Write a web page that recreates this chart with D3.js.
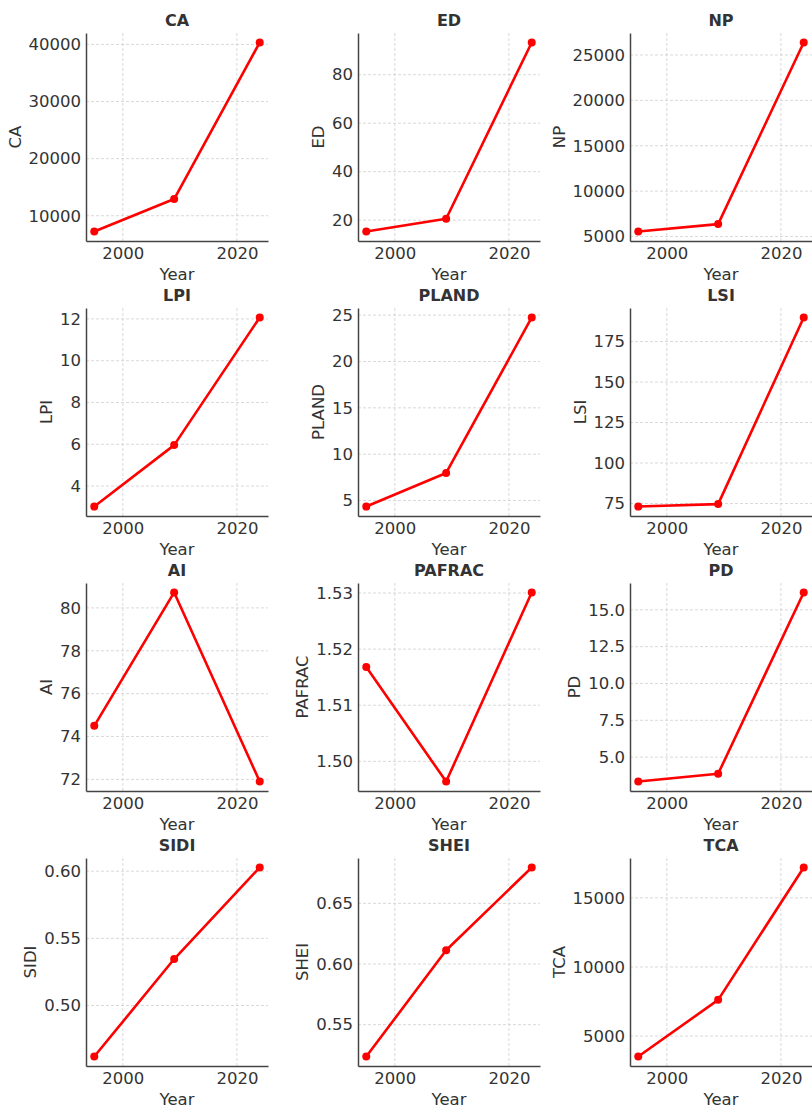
<!DOCTYPE html>
<html>
<head>
<meta charset="utf-8">
<script src="https://cdn.jsdelivr.net/npm/d3@7"></script>
<style>
  html, body { margin: 0; padding: 0; background: #fff; }
  svg { display: block; font-family: "DejaVu Sans", sans-serif; }
</style>
</head>
<body>
<svg id="chart" width="812" height="1106"></svg>
<script>
// ---- data ----
const years = [1995, 2009, 2024];
const xTicks = [2000, 2020];
const metrics = ["CA", "ED", "NP", "LPI", "PLAND", "LSI", "AI", "PAFRAC", "PD", "SIDI", "SHEI", "TCA"];

const CA = [7230, 12930, 40350];
const ED = [15.3, 20.6, 93.3];
const NP = [5550, 6370, 26380];
const LPI = [3.02, 5.96, 12.07];
const PLAND = [4.35, 7.97, 24.75];
const LSI = [73.1, 74.6, 189.9];
const AI = [74.5, 80.72, 71.9];
const PAFRAC = [1.5168, 1.4964, 1.5301];
const PD = [3.34, 3.87, 16.18];
const SIDI = [0.462, 0.5346, 0.6028];
const SHEI = [0.5237, 0.6113, 0.6796];
const TCA = [3520, 7620, 17200];

const ticksCA = [10000, 20000, 30000, 40000];
const ticksED = [20, 40, 60, 80];
const ticksNP = [5000, 10000, 15000, 20000, 25000];
const ticksLPI = [4, 6, 8, 10, 12];
const ticksPLAND = [5, 10, 15, 20, 25];
const ticksLSI = [75, 100, 125, 150, 175];
const ticksAI = [72, 74, 76, 78, 80];
const ticksPAFRAC = ["1.50", "1.51", "1.52", "1.53"];
const ticksPD = ["5.0", "7.5", "10.0", "12.5", "15.0"];
const ticksSIDI = ["0.50", "0.55", "0.60"];
const ticksSHEI = ["0.55", "0.60", "0.65"];
const ticksTCA = [5000, 10000, 15000];

const values = { CA, ED, NP, LPI, PLAND, LSI, AI, PAFRAC, PD, SIDI, SHEI, TCA };
const ticks = {
  CA: ticksCA, ED: ticksED, NP: ticksNP, LPI: ticksLPI, PLAND: ticksPLAND, LSI: ticksLSI,
  AI: ticksAI, PAFRAC: ticksPAFRAC, PD: ticksPD, SIDI: ticksSIDI, SHEI: ticksSHEI, TCA: ticksTCA
};

// ---- layout ----
const svg = d3.select("#chart");
const colX = [86, 358, 630];
const rowY = [33, 308, 583, 858];
const W = 182, H = 208;
const FS = 16.5;
const textColor = "#333";
const spineColor = "#444";

function pad(ext) { const r = ext[1] - ext[0]; return [ext[0] - 0.05 * r, ext[1] + 0.05 * r]; }

metrics.forEach((m, i) => {
  const col = i % 3, row = Math.floor(i / 3);
  const g = svg.append("g").attr("transform", `translate(${colX[col]},${rowY[row]})`);
  const x = d3.scaleLinear().domain(pad(d3.extent(years))).range([0, W]);
  const y = d3.scaleLinear().domain(pad(d3.extent(values[m]))).range([H, 0]);
  const tks = ticks[m];
  const tickVals = tks.map(t => +t);
  const tickLab = tks.map(t => typeof t === "string" ? t : String(t));

  // grid
  g.append("g").selectAll("line.gx").data(xTicks).join("line")
    .attr("x1", d => x(d)).attr("x2", d => x(d)).attr("y1", 0).attr("y2", H)
    .attr("stroke", "#cfcfcf").attr("stroke-width", 0.8).attr("stroke-dasharray", "3,2");
  g.append("g").selectAll("line.gy").data(tickVals).join("line")
    .attr("x1", 0).attr("x2", W).attr("y1", d => y(d)).attr("y2", d => y(d))
    .attr("stroke", "#cfcfcf").attr("stroke-width", 0.8).attr("stroke-dasharray", "3,2");

  // axes via d3
  const yAxis = d3.axisLeft(y).tickValues(tickVals).tickSize(0).tickPadding(5)
    .tickFormat((d, k) => tickLab[k]);
  const xAxis = d3.axisBottom(x).tickValues(xTicks).tickSize(0).tickPadding(6)
    .tickFormat(d3.format("d"));

  const ya = g.append("g").call(yAxis);
  const xa = g.append("g").attr("transform", `translate(0,${H})`).call(xAxis);
  [ya, xa].forEach(a => {
    a.select(".domain").attr("stroke", spineColor).attr("stroke-width", 1.5);
    a.selectAll("text").attr("font-size", FS).attr("fill", textColor)
      .attr("font-family", "DejaVu Sans, sans-serif");
  });
  xa.selectAll("text").attr("dy", null).attr("y", 18);

  // line + points
  const pts = years.map((yr, k) => [yr, values[m][k]]);
  g.append("path").datum(pts)
    .attr("fill", "none").attr("stroke", "#ff0000").attr("stroke-width", 2.6)
    .attr("stroke-linejoin", "round")
    .attr("d", d3.line().x(d => x(d[0])).y(d => y(d[1])));
  g.selectAll("circle").data(pts).join("circle")
    .attr("cx", d => x(d[0])).attr("cy", d => y(d[1])).attr("r", 4)
    .attr("fill", "#ff0000");

  // title
  g.append("text").attr("x", W / 2).attr("y", -7).attr("text-anchor", "middle")
    .attr("font-size", 16).attr("font-weight", "bold").attr("fill", textColor).text(m);

  // x label
  g.append("text").attr("x", W / 2).attr("y", H + 39).attr("text-anchor", "middle")
    .attr("font-size", FS).attr("fill", textColor).text("Year");

  // y label, positioned left of widest tick label
  let minLeft = 0;
  ya.selectAll(".tick text").each(function () {
    const b = this.getBBox();
    const p = this.parentNode.transform.baseVal.consolidate();
    const ox = p ? p.matrix.e : 0;
    minLeft = Math.min(minLeft, ox + b.x);
  });
  const lx = minLeft - 8;
  g.append("text").attr("transform", `translate(${lx},${H / 2}) rotate(-90)`)
    .attr("text-anchor", "middle").attr("font-size", FS).attr("fill", textColor).text(m);
});
</script>
</body>
</html>
